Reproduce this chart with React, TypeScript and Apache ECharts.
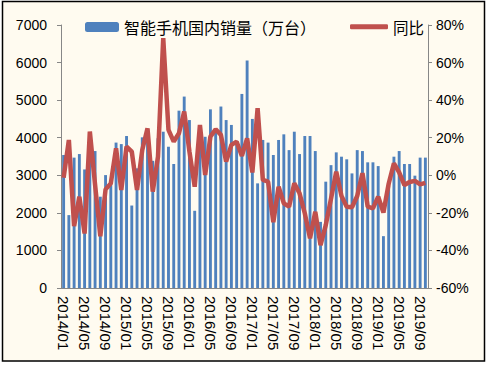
import React, { useEffect, useRef } from "react";
import * as echarts from "echarts";

const barName = "智能手机国内销量（万台）";
const lineName = "同比";

const years = [2014, 2015, 2016, 2017, 2018, 2019];
const categories: string[] = [];
years.forEach((y) => {
  for (let m = 1; m <= 12; m++) {
    if (y === 2019 && m > 10) break;
    categories.push(`${y}/${m < 10 ? "0" + m : m}`);
  }
});

// 智能手机国内销量（万台）, 2014/01 - 2019/10
const sales = [
  3540, 1940, 3470, 3565, 3155, 3700, 3645, 2430, 3005, 2800, 3870, 3830,
  4045, 2195, 3185, 4010, 3945, 3385, 3985, 4160, 3760, 3300, 4720, 5095,
  4470, 2055, 4040, 4025, 4755, 4200, 4830, 4470, 4340, 3920, 5165, 6055,
  4500, 2785, 3940, 3870, 3540, 3940, 4090, 3670, 4160, 3565, 4045, 4045,
  3645, 1760, 2830, 3270, 3610, 3495, 3425, 3050, 3670, 3645, 3345, 3345,
  3245, 1380, 2720, 3495, 3645, 3300, 3300, 2990, 3470, 3470,
];

// 同比 (%)
const yoy = [
  -1.3, 18.8, -27, -11.4, -31, 23.3, -5, -32.5, -7.5, -4.3, 14.4, -7.8,
  15.3, 12.6, -7.8, 13.5, 25, -8.7, 9.9, 73, 24.2, 17.9, 22.4, 33.9,
  12.6, -6.1, 26.8, 0.2, 20.6, 24.5, 21.5, 7.3, 16.2, 17.9, 10.3, 19.7,
  1.5, 35.7, -2.5, -3.4, -25, -6.1, -14.9, -16.7, -4.3, -9.6, -20.2, -33.6,
  -19.4, -37.2, -26.5, -12.5, 1.9, -11, -16.7, -17, -11, 1.1, -16.7, -17.6,
  -11.4, -19.8, -4.5, 6.4, 1.5, -5.2, -3.6, -3, -4.8, -4,
];

export default function App() {
  const ref = useRef<HTMLDivElement>(null);
  useEffect(() => {
    if (!ref.current) return;
    const chart = echarts.init(ref.current, null, { renderer: "svg" });
    const axisColor = "#878787";
    const numFont = "Liberation Sans, Arial, sans-serif";
    const cjkFont = "Noto Sans CJK SC, sans-serif";
    chart.setOption({
      animation: false,
      backgroundColor: "#ffffff",
      graphic: [
        {
          type: "rect",
          z: -10,
          silent: true,
          shape: { x: 2.5, y: 1.5, width: 482, height: 359.5 },
          style: { fill: "#FFFBF0", stroke: "#000000", lineWidth: 1.5 },
        },
      ],
      legend: [
        {
          data: [barName],
          left: 80,
          top: 14,
          itemWidth: 34,
          itemHeight: 10,
          itemGap: 6,
          textStyle: { fontFamily: cjkFont, fontSize: 16, color: "#000" },
        },
        {
          data: [{ name: lineName, icon: "roundRect" }],
          left: 345,
          top: 14,
          itemWidth: 38,
          itemHeight: 5,
          textStyle: { fontFamily: cjkFont, fontSize: 15.5, color: "#000" },
        },
      ],
      grid: { left: 61, right: 62, top: 25, bottom: 78, containLabel: false },
      xAxis: {
        type: "category",
        data: categories,
        boundaryGap: true,
        axisLine: { lineStyle: { color: axisColor, width: 1 } },
        axisTick: { interval: 3, length: 4, lineStyle: { color: axisColor } },
        axisLabel: {
          interval: 3,
          rotate: -90,
          margin: 8,
          fontSize: 15,
          fontFamily: numFont,
          color: "#000",
        },
        splitLine: { show: false },
      },
      yAxis: [
        {
          type: "value",
          min: 0,
          max: 7000,
          interval: 1000,
          axisLine: { show: true, lineStyle: { color: axisColor } },
          axisTick: { show: true, length: 4, lineStyle: { color: axisColor } },
          splitLine: { show: false },
          axisLabel: {
            margin: 14,
            fontSize: 14,
            fontFamily: numFont,
            color: "#000",
            formatter: (v: number) => String(v),
          },
        },
        {
          type: "value",
          position: "right",
          min: -60,
          max: 80,
          interval: 20,
          axisLine: { show: true, lineStyle: { color: axisColor } },
          axisTick: { show: true, length: 4, lineStyle: { color: axisColor } },
          splitLine: { show: false },
          axisLabel: {
            margin: 8,
            fontSize: 14,
            fontFamily: numFont,
            color: "#000",
            formatter: "{value}%",
          },
        },
      ],
      series: [
        {
          name: barName,
          type: "bar",
          data: sales,
          barWidth: "55%",
          itemStyle: { color: "#4F81BD" },
        },
        {
          name: lineName,
          type: "line",
          yAxisIndex: 1,
          data: yoy,
          symbol: "none",
          lineStyle: { color: "#C0504D", width: 4.5 },
          itemStyle: { color: "#C0504D" },
        },
      ],
    });
    return () => chart.dispose();
  }, []);
  return (
    <div
      ref={ref}
      style={{ position: "absolute", left: 0, top: 0, width: 490, height: 366 }}
    />
  );
}
